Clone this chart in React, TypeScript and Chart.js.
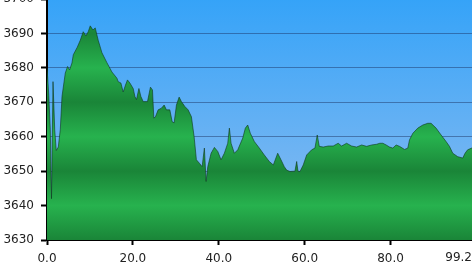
import React, { useEffect, useRef } from "react";
import { Chart, registerables } from "chart.js";

Chart.register(...registerables);

// Distance (km) along the track
const distances = [
  0, 0.42, 0.77, 1.05, 1.4, 1.8, 2.16, 2.63, 3.09, 3.49, 4.26, 4.79, 5.26, 5.81, 6.12, 7.05, 7.74,
  8.44, 9.07, 9.6, 10.07, 10.7, 11.23, 11.93, 12.79, 13.95, 15.12, 16.28, 16.58, 17.21, 17.74,
  18.28, 18.74, 19.3, 20.07, 20.47, 20.84, 21.4, 21.86, 22.4, 23.4, 24.09, 24.56, 24.88, 25.26,
  25.88, 26.65, 27.28, 27.81, 28.6, 29.14, 29.6, 30.14, 30.77, 31.3, 32.09, 32.86, 33.63, 34.26,
  34.79, 35.49, 36.12, 36.65, 37.05, 37.44, 38.21, 38.98, 39.77, 40.53, 41.3, 42.09, 42.47, 42.86,
  43.63, 44.42, 45.58, 46.19, 46.74, 47.35, 48.28, 49.44, 50.6, 51.77, 52.7, 53.72, 54.49, 55.26,
  55.81, 56.58, 57.74, 58.14, 58.44, 58.91, 59.67, 60.47, 61.63, 62.4, 62.93, 63.4, 64.33, 65.49,
  66.65, 67.81, 68.6, 69.77, 70.93, 72.09, 73.26, 74.42, 75.58, 76.74, 77.51, 78.21, 78.98, 79.77,
  80.53, 81.3, 82.09, 83.26, 84.02, 84.42, 85.19, 86.35, 87.51, 88.67, 89.44, 90.6, 91.77, 92.93,
  93.72, 94.49, 95.65, 96.81, 97.35, 97.95, 98.9, 99.2,
];

// Elevation (m)
const elevations = [
  3680, 3672, 3662, 3642, 3676, 3662, 3656, 3657, 3662, 3671.7, 3678.5, 3680.4, 3679.4, 3681.4,
  3683.8, 3686, 3688, 3690.5, 3689.3, 3690.5, 3692.2, 3691, 3691.6, 3688, 3684.4, 3681.5, 3678.8,
  3677, 3676, 3675.6, 3673, 3675, 3676.5, 3675.6, 3674, 3671.7, 3670.8, 3674, 3671.7, 3670.2,
  3670.2, 3674.4, 3673.6, 3665.4, 3665.8, 3667.8, 3668.3, 3669.2, 3667.8, 3667.8, 3664.4, 3664,
  3669.2, 3671.5, 3670.2, 3668.8, 3667.8, 3665.8, 3660, 3653.3, 3652.3, 3651.3, 3656.7, 3647,
  3651.3, 3655.2, 3656.9, 3655.7, 3653.3, 3655.2, 3658.1, 3662.5, 3658.1, 3655.2, 3656.2, 3659.6,
  3662.5, 3663.4, 3661, 3658.6, 3656.7, 3654.7, 3652.8, 3651.8, 3655.2, 3653.3, 3651.3, 3650.3,
  3649.9, 3650, 3652.8, 3650, 3649.9, 3651.8, 3654.7, 3656.2, 3656.7, 3660.5, 3657.2, 3657, 3657.3,
  3657.3, 3658.1, 3657.3, 3658.1, 3657.3, 3657, 3657.6, 3657.2, 3657.6, 3657.8, 3658.1, 3658.1,
  3657.6, 3657, 3656.7, 3657.6, 3657.2, 3656.3, 3656.7, 3659.1, 3661, 3662.5, 3663.4, 3663.9,
  3663.9, 3662.5, 3660.5, 3658.6, 3657.2, 3655.2, 3654.2, 3653.8, 3655.2, 3656.2, 3656.7, 3656.5,
];

const xTickValues = [0, 20, 40, 60, 80, 99.2];
const xMax = 99.2;
const yMin = 3630;
const yMax = 3700;
const yStep = 10;

const TICK_FONT = "12px 'DejaVu Sans'";
const X_LABEL_PAD = 7;
const X_TICK_LEN = 5;

const bgPlugin = {
  id: "skyBackground",
  beforeDraw(chart: any) {
    const ca = chart.chartArea;
    if (!ca) return;
    const ctx = chart.ctx;
    const g = ctx.createLinearGradient(0, ca.top, 0, ca.bottom);
    g.addColorStop(0, "#35a3f8");
    g.addColorStop(1, "#8fbdf0");
    ctx.save();
    ctx.fillStyle = g;
    ctx.fillRect(ca.left, ca.top, ca.right - ca.left, ca.bottom - ca.top);
    ctx.restore();
  },
};

// last x label is kept inside the visible page, right-aligned to its edge
const lastLabelPlugin = {
  id: "lastXLabel",
  afterDraw(chart: any) {
    const xs = chart.scales.x;
    if (!xs) return;
    const ctx = chart.ctx;
    ctx.save();
    ctx.font = TICK_FONT;
    ctx.fillStyle = "#222";
    ctx.textAlign = "right";
    ctx.textBaseline = "top";
    ctx.fillText(xMax.toFixed(1), 472, xs.top + X_TICK_LEN + X_LABEL_PAD);
    ctx.restore();
  },
};

function greenFill(context: any) {
  const chart = context.chart;
  const ca = chart.chartArea;
  if (!ca) return "#22a84a";
  const g = chart.ctx.createLinearGradient(0, ca.top, 0, ca.bottom);
  for (let v = yMax; v >= yMin; v -= yStep) {
    const pos = (yMax - v) / (yMax - yMin);
    const light = ((yMax - v) / yStep) % 2 === 0;
    g.addColorStop(Math.min(1, Math.max(0, pos)), light ? "#27b24e" : "#1a8538");
  }
  return g;
}

export default function App() {
  const canvasRef = useRef<HTMLCanvasElement | null>(null);

  useEffect(() => {
    document.body.style.margin = "0";
    document.body.style.overflow = "hidden";
    const canvas = canvasRef.current;
    if (!canvas) return;
    const points = distances.map((d, i) => ({ x: d, y: elevations[i] }));
    const chart = new Chart(canvas, {
      type: "line",
      data: {
        datasets: [
          {
            data: points,
            borderColor: "rgba(15,55,30,0.6)",
            borderWidth: 1,
            backgroundColor: greenFill,
            fill: "start",
            pointRadius: 0,
            tension: 0,
          },
        ],
      },
      options: {
        animation: false,
        responsive: false,
        maintainAspectRatio: false,
        devicePixelRatio: 1,
        layout: { padding: { top: 19, right: 27, bottom: 15, left: 0 } },
        plugins: { legend: { display: false }, tooltip: { enabled: false } },
        scales: {
          x: {
            type: "linear",
            min: 0,
            max: xMax,
            z: 1,
            afterBuildTicks: (scale: any) => {
              scale.ticks = xTickValues.map((v) => ({ value: v }));
            },
            afterFit: (scale: any) => {
              scale.height = 25;
            },
            ticks: {
              autoSkip: false,
              maxRotation: 0,
              padding: X_LABEL_PAD,
              color: "#222",
              font: { family: "DejaVu Sans", size: 12 },
              callback: (v: any) => (Number(v) >= xMax ? "" : Number(v).toFixed(1)),
            },
            grid: {
              display: true,
              drawOnChartArea: false,
              drawTicks: true,
              tickLength: X_TICK_LEN,
              tickColor: "#000",
              tickWidth: 2,
            },
            border: { display: true, color: "#000", width: 2 },
          },
          y: {
            type: "linear",
            min: yMin,
            max: yMax,
            z: 1,
            afterFit: (scale: any) => {
              scale.width = 47;
            },
            ticks: {
              stepSize: yStep,
              padding: 7,
              color: "#222",
              font: { family: "DejaVu Sans", size: 12 },
              callback: (v: any) => String(Math.round(Number(v))),
            },
            grid: {
              color: "rgba(25,45,90,0.45)",
              lineWidth: 1,
              tickLength: 6,
              tickColor: "#000",
              tickWidth: 2,
            },
            border: { display: true, color: "#000", width: 2 },
          },
        },
      },
      plugins: [bgPlugin, lastLabelPlugin],
    });
    return () => chart.destroy();
  }, []);

  return (
    <div style={{ position: "fixed", left: 0, top: -20, width: 500, height: 300 }}>
      <canvas ref={canvasRef} width={500} height={300} style={{ width: 500, height: 300 }} />
    </div>
  );
}
